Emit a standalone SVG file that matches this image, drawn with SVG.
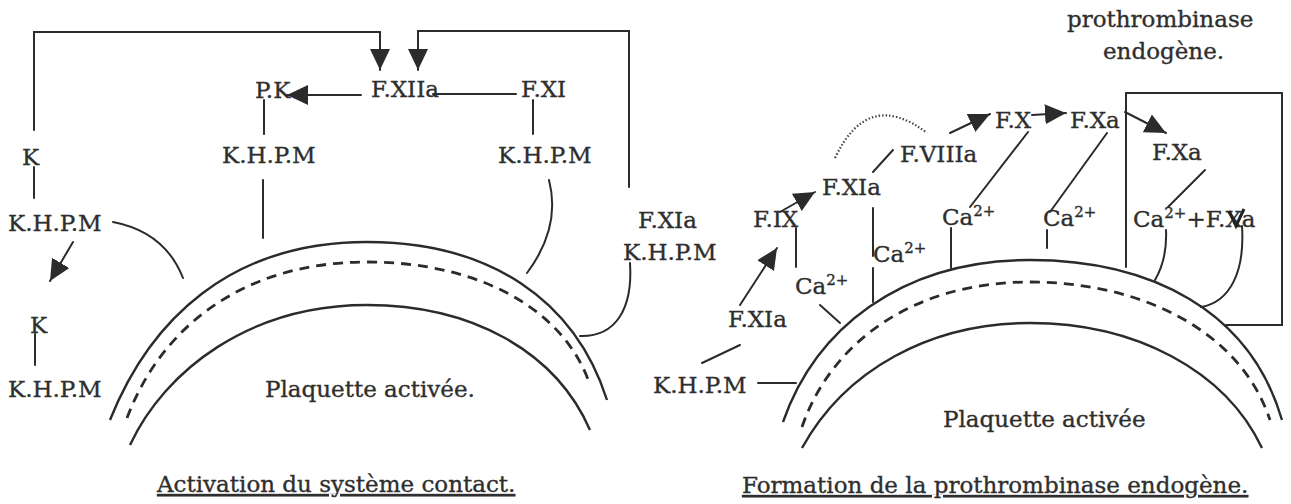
<svg xmlns="http://www.w3.org/2000/svg" width="1291" height="504" viewBox="0 0 1291 504">
  <defs>
    <style>
      text { font-family: "DejaVu Serif", "Liberation Serif", serif; font-size: 23px; fill: #2e2e2e; stroke: #2e2e2e; stroke-width: 0.35; }
      .sup { font-size: 15px; }
      .cap { text-decoration: underline; }
      .ln { fill: none; stroke: #2b2b2b; stroke-width: 2; stroke-linecap: round; stroke-linejoin: miter; }
      .arc { fill: none; stroke: #2b2b2b; stroke-width: 2.4; }
      .dash { fill: none; stroke: #2b2b2b; stroke-width: 2.8; stroke-dasharray: 10 7; }
      .dot { fill: none; stroke: #444; stroke-width: 2.2; stroke-dasharray: 1.5 2; }
      .arr { marker-end: url(#head); }
    </style>
    <marker id="head" markerUnits="userSpaceOnUse" markerWidth="24" markerHeight="22" refX="21" refY="10" orient="auto">
      <path d="M0,0 L21,10 L0,20 Z" fill="#2b2b2b"/>
    </marker>
  </defs>
  <rect width="1291" height="504" fill="#ffffff"/>

  <!-- Left panel: contact system activation -->
  <g id="platelet-left">
    <path class="arc" d="M110,420 C150,320 230,242 367,242 C490,242 575,300 607,400"/>
    <path class="dash" d="M127,418 C160,330 240,262 367,262 C480,262 565,310 590,385"/>
    <path class="arc" d="M130,445 C165,370 250,305 367,305 C470,305 555,350 590,430"/>
    <text x="265" y="397">Plaquette activée.</text>
  </g>
  <g id="pk"><text x="255" y="98">P.K</text></g>
  <g id="f12a"><text x="371" y="97">F.XIIa</text></g>
  <g id="f11"><text x="521" y="97">F.XI</text></g>
  <g id="khpm-pk"><text x="222" y="163">K.H.P.M</text></g>
  <g id="khpm-f11"><text x="498" y="163">K.H.P.M</text></g>
  <g id="k-top"><text x="22" y="165">K</text></g>
  <g id="khpm-k"><text x="8" y="231">K.H.P.M</text></g>
  <g id="k-bottom"><text x="30" y="333">K</text></g>
  <g id="khpm-bottom"><text x="8" y="397">K.H.P.M</text></g>
  <g id="f11a-khpm">
    <text x="638" y="228">F.XIa</text>
    <text x="623" y="260">K.H.P.M</text>
  </g>
  <g id="caption-left">
    <text class="cap" x="157" y="492">Activation du système contact.</text>
  </g>

  <!-- Right panel: endogenous prothrombinase -->
  <g id="platelet-right">
    <path class="arc" d="M783,422 C815,330 900,260 1030,260 C1150,260 1250,310 1282,420"/>
    <path class="dash" d="M802,427 C830,345 910,282 1030,282 C1140,282 1240,330 1270,420"/>
    <path class="arc" d="M802,448 C845,370 930,323 1030,323 C1135,323 1225,370 1262,448"/>
    <text x="943" y="427">Plaquette activée</text>
  </g>
  <g id="title-box">
    <text x="1067" y="27">prothrombinase</text>
    <text x="1103" y="59">endogène.</text>
  </g>
  <g id="khpm-r"><text x="653" y="393">K.H.P.M</text></g>
  <g id="f11a-r"><text x="728" y="327">F.XIa</text></g>
  <g id="f9"><text x="753" y="227">F.IX</text></g>
  <g id="ca-1"><text x="795" y="294">Ca<tspan class="sup" dy="-9">2+</tspan></text></g>
  <g id="f11a-top"><text x="822" y="195">F.XIa</text></g>
  <g id="ca-2"><text x="873" y="262">Ca<tspan class="sup" dy="-9">2+</tspan></text></g>
  <g id="f8a"><text x="900" y="162">F.VIIIa</text></g>
  <g id="f10"><text x="995" y="128">F.X</text></g>
  <g id="ca-3"><text x="942" y="225">Ca<tspan class="sup" dy="-9">2+</tspan></text></g>
  <g id="f10a"><text x="1070" y="128">F.Xa</text></g>
  <g id="ca-4"><text x="1043" y="226">Ca<tspan class="sup" dy="-9">2+</tspan></text></g>
  <g id="f10a-box"><text x="1152" y="160">F.Xa</text></g>
  <g id="ca-f10a">
    <text x="1133" y="227">Ca<tspan class="sup" dy="-9">2+</tspan><tspan dy="9">+F.Xa</tspan></text>
    <path d="M1229,211 L1236,226 L1244,209" fill="none" stroke="#222" stroke-width="3"/>
  </g>
  <g id="caption-right">
    <text class="cap" x="742" y="493">Formation de la prothrombinase endogène.</text>
  </g>

  <g id="connectors">
    <!-- left panel -->
    <path class="ln arr" d="M34,130 V32 H380 V70"/>
    <path class="ln arr" d="M629,187 V31 H418 V70"/>
    <path class="ln arr" d="M361,95 H287"/>
    <path class="ln" d="M433,94 H516"/>
    <path class="ln" d="M264,100 V134"/>
    <path class="ln" d="M533,100 V134"/>
    <path class="ln" d="M263,180 V238"/>
    <path class="ln" d="M549,180 C558,215 548,245 527,273"/>
    <path class="ln" d="M34,167 V198"/>
    <path class="ln" d="M113,222 Q165,232 183,278"/>
    <path class="ln arr" d="M73,242 L50,281"/>
    <path class="ln" d="M35,334 V365"/>
    <path class="ln" d="M630,263 C633,310 615,337 580,336"/>
    <!-- right panel -->
    <path class="ln" d="M758,383 H796"/>
    <path class="ln" d="M702,363 L740,345"/>
    <path class="ln arr" d="M740,305 L777,248"/>
    <path class="ln" d="M820,305 L840,323"/>
    <path class="ln" d="M796,228 V267"/>
    <path class="ln arr" d="M780,212 L815,192"/>
    <path class="ln" d="M873,208 V256 M873,268 V302"/>
    <path class="ln" d="M873,172 L893,150"/>
    <path class="dot" d="M835,158 Q868,88 927,133"/>
    <path class="ln arr" d="M950,133 L990,114"/>
    <path class="ln" d="M1028,132 L970,207"/>
    <path class="ln" d="M951,228 V268"/>
    <path class="ln arr" d="M1032,115 L1066,113"/>
    <path class="ln" d="M1107,133 L1050,212"/>
    <path class="ln" d="M1047,230 V248"/>
    <path class="ln arr" d="M1125,112 L1166,133"/>
    <path class="ln" d="M1126,267 V93 H1282 V325 H1226"/>
    <path class="ln" d="M1205,170 L1168,207"/>
    <path class="ln" d="M1166,230 C1167,252 1162,268 1155,280"/>
    <path class="ln" d="M1242,226 C1245,272 1230,302 1201,307"/>
  </g>
</svg>
